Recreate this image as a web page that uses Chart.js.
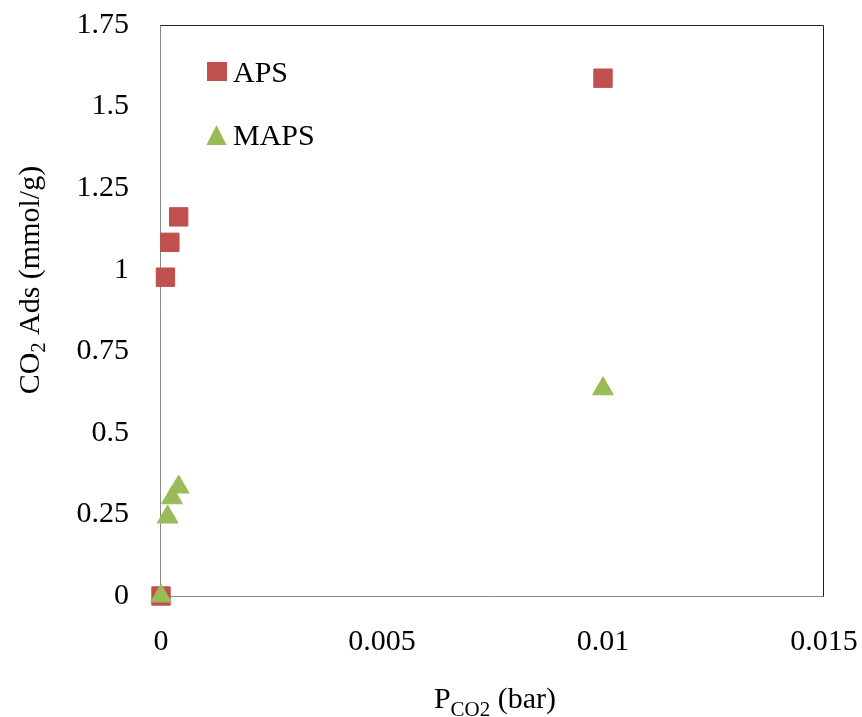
<!DOCTYPE html>
<html>
<head>
<meta charset="utf-8">
<title>CO2 adsorption</title>
<script src="https://cdn.jsdelivr.net/npm/chart.js@4.4.0/dist/chart.umd.min.js"></script>
<style>
  html, body { margin: 0; padding: 0; background: #fff; }
  #wrap { width: 862px; height: 717px; }
</style>
</head>
<body>
<div id="wrap"><canvas id="co2-chart" width="862" height="717"></canvas></div>
<script>
// values: P_CO2 in bar, uptake in mmol/g
const apsPressure = [0, 0.0001, 0.0002, 0.0004, 0.01];
const apsAds = [0, 0.977, 1.084, 1.162, 1.587];
const mapsPressure = [0, 0.00015, 0.00025, 0.0004, 0.01];
const mapsAds = [0, 0.242, 0.301, 0.334, 0.635];

const xTicks = [0, 0.005, 0.01, 0.015];
const xTickLabels = ['0', '0.005', '0.01', '0.015'];
const yTicks = [0, 0.25, 0.5, 0.75, 1, 1.25, 1.5, 1.75];
const yTickLabels = ['0', '0.25', '0.5', '0.75', '1', '1.25', '1.5', '1.75'];

const RED = '#c0504d';
const GREEN = '#9bbb59';
const SERIF = "'Liberation Serif', 'Times New Roman', serif";

function toPoints(xs, ys) {
    return xs.map((x, i) => ({ x: x, y: ys[i] }));
}

Chart.defaults.font.family = SERIF;
Chart.defaults.font.size = 30;
Chart.defaults.color = '#000';

// box around the plot: grey left/bottom, dark top/right
const frame = {
    id: 'frame',
    beforeDatasetsDraw(chart) {
        const { ctx, chartArea: a } = chart;
        ctx.save();
        ctx.lineWidth = 1;
        ctx.strokeStyle = '#888';
        ctx.beginPath();
        ctx.moveTo(a.left - 0.5, a.top);
        ctx.lineTo(a.left - 0.5, a.bottom + 0.5);
        ctx.lineTo(a.right, a.bottom + 0.5);
        ctx.stroke();
        ctx.strokeStyle = '#222';
        ctx.beginPath();
        ctx.moveTo(a.left - 0.5, a.top + 0.5);
        ctx.lineTo(a.right - 0.5, a.top + 0.5);
        ctx.lineTo(a.right - 0.5, a.bottom + 0.5);
        ctx.stroke();
        ctx.restore();
    }
};

// draws a run of [text, size, shift] pieces starting at x
function drawParts(ctx, parts, x, y) {
    parts.forEach(p => {
        ctx.font = p[1] + 'px ' + SERIF;
        ctx.fillText(p[0], x, y + p[2]);
        x += ctx.measureText(p[0]).width;
    });
}
function partsWidth(ctx, parts) {
    return parts.reduce((w, p) => {
        ctx.font = p[1] + 'px ' + SERIF;
        return w + ctx.measureText(p[0]).width;
    }, 0);
}

// axis titles need subscripts, so they are drawn here
const axisTitles = {
    id: 'axisTitles',
    afterDraw(chart) {
        const ctx = chart.ctx;
        ctx.save();
        ctx.fillStyle = '#000';
        ctx.textBaseline = 'alphabetic';
        ctx.textAlign = 'left';

        const xParts = [['P', 30, 0], ['CO2', 21, 8], [' (bar)', 30, 0]];
        const xw = partsWidth(ctx, xParts);
        drawParts(ctx, xParts, 495 - xw / 2, 708);

        const yParts = [['CO', 30, 0], ['2', 20, 6], [' Ads (mmol/g)', 30, 0]];
        const yw = partsWidth(ctx, yParts);
        ctx.translate(39, 280);
        ctx.rotate(-Math.PI / 2);
        drawParts(ctx, yParts, -yw / 2, 0);
        ctx.restore();
    }
};

// legend sits inside the plot, top left
const innerLegend = {
    id: 'innerLegend',
    afterDraw(chart) {
        const ctx = chart.ctx;
        const left = chart.chartArea.left;
        ctx.save();
        ctx.font = '30px ' + SERIF;
        ctx.textBaseline = 'alphabetic';
        ctx.textAlign = 'left';
        chart.data.datasets.forEach((ds, i) => {
            const base = 82 + i * 63;
            ctx.fillStyle = ds.backgroundColor;
            if (ds.pointStyle === 'rect') {
                ctx.fillRect(left + 46, base - 20, 20, 19);
            } else {
                ctx.beginPath();
                ctx.moveTo(left + 55.5, base - 20);
                ctx.lineTo(left + 65.5, base);
                ctx.lineTo(left + 45.5, base);
                ctx.closePath();
                ctx.fill();
            }
            ctx.fillStyle = '#000';
            ctx.fillText(ds.label, left + 72, base);
        });
        ctx.restore();
    }
};

new Chart(document.getElementById('co2-chart'), {
    type: 'scatter',
    data: {
        datasets: [
            {
                label: 'APS',
                data: toPoints(apsPressure, apsAds),
                pointStyle: 'rect',
                pointRadius: 13,
                pointHoverRadius: 13,
                borderWidth: 1,
                backgroundColor: RED,
                borderColor: RED,
                order: 1,
                clip: false
            },
            {
                label: 'MAPS',
                data: toPoints(mapsPressure, mapsAds),
                pointStyle: 'triangle',
                pointRadius: 12,
                pointHoverRadius: 12,
                borderWidth: 1,
                backgroundColor: GREEN,
                borderColor: GREEN,
                order: 0,
                clip: false
            }
        ]
    },
    options: {
        responsive: false,
        animation: false,
        layout: { padding: { top: 25, right: 38, left: 0, bottom: 0 } },
        plugins: {
            legend: { display: false },
            tooltip: { enabled: false }
        },
        scales: {
            x: {
                type: 'linear',
                min: 0,
                max: 0.015,
                afterBuildTicks: s => { s.ticks = xTicks.map(v => ({ value: v })); },
                afterFit: s => {
                    s.height = 121;
                    s.paddingLeft = 0;
                    s.paddingRight = 0;
                },
                grid: { display: false, drawTicks: false },
                border: { display: false },
                ticks: {
                    padding: 28,
                    maxRotation: 0,
                    callback: (v, i) => xTickLabels[i]
                }
            },
            y: {
                type: 'linear',
                min: 0,
                max: 1.75,
                afterBuildTicks: s => { s.ticks = yTicks.map(v => ({ value: v })); },
                afterFit: s => {
                    s.width = 161;
                    s.paddingTop = 0;
                    s.paddingBottom = 0;
                },
                grid: { display: false, drawTicks: false },
                border: { display: false },
                ticks: {
                    padding: 32,
                    callback: (v, i) => yTickLabels[i]
                }
            }
        }
    },
    plugins: [frame, axisTitles, innerLegend]
});
</script>
</body>
</html>
